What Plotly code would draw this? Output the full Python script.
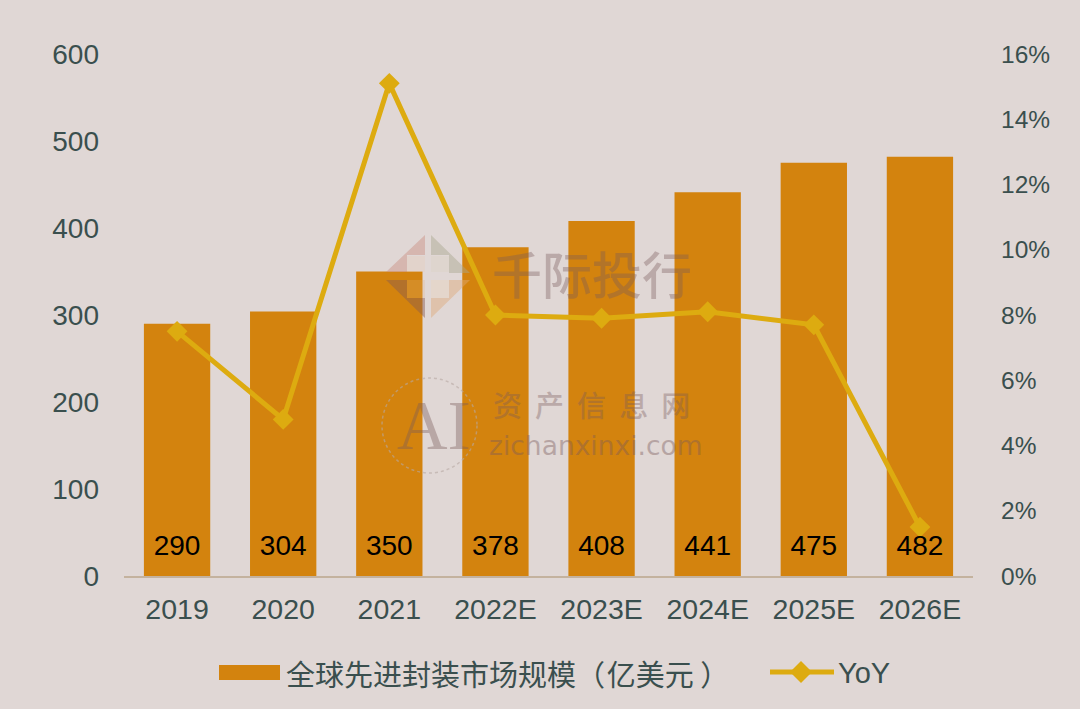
import plotly.graph_objects as go

categories = ["2019", "2020", "2021", "2022E", "2023E", "2024E", "2025E", "2026E"]
market_size = [290, 304, 350, 378, 408, 441, 475, 482]
yoy = [7.5, 4.8, 15.1, 8.0, 7.9, 8.1, 7.7, 1.5]
left_ticks = [0, 100, 200, 300, 400, 500, 600]
right_ticks = [0, 2, 4, 6, 8, 10, 12, 14, 16]
right_labels = ["0%", "2%", "4%", "6%", "8%", "10%", "12%", "14%", "16%"]
bar_name = "全球先进封装市场规模（\u200a亿美元 ）"
line_name = "YoY"

W, H = 1080, 709
L, R, T, B = 124, 973, 54, 576
BG, BAR, LINE, TXT = "#E0D7D5", "#D3830E", "#DDAB10", "#3A4F4E"
SANS = "Liberation Sans, Arial, sans-serif"
CJK = "Noto Sans CJK SC, sans-serif"
LABEL_LEVEL = 0.85  # height of the value labels, in right-axis units


def px(x):
    return (x - L) / (R - L)


def py(y):
    return (B - y) / (B - T)


def poly(points, color, opacity):
    d = "M" + "L".join(f"{px(x):.5f},{py(y):.5f}" for x, y in points) + "Z"
    return dict(type="path", xref="paper", yref="paper", path=d, fillcolor=color,
                opacity=opacity, line=dict(width=0), layer="above")


def label(text, x, y, size, color=TXT, family=CJK, anchor="left", opacity=1.0, weight=400):
    return dict(text=text, x=px(x), y=py(y), xref="paper", yref="paper", showarrow=False,
                xanchor=anchor, yanchor="middle", opacity=opacity,
                font=dict(size=size, color=color, family=family, weight=weight))


fig = go.Figure()
fig.add_trace(go.Bar(
    x=categories, y=market_size, name=bar_name, marker=dict(color=BAR, line=dict(width=0)),
    showlegend=False,
))
fig.add_trace(go.Scatter(
    x=categories, y=yoy, name=line_name, yaxis="y2", mode="lines+markers",
    line=dict(color=LINE, width=5), marker=dict(symbol="diamond", size=16, color=LINE),
    showlegend=False,
))
fig.add_trace(go.Scatter(
    x=categories, y=[LABEL_LEVEL] * len(categories), yaxis="y2", mode="text",
    text=[str(v) for v in market_size], textposition="middle center",
    textfont=dict(size=28, color="#000000", family=SANS), showlegend=False,
))

shapes = [
    # legend keys
    dict(type="rect", xref="paper", yref="paper", x0=px(219), x1=px(280), y0=py(680), y1=py(665),
         fillcolor=BAR, line=dict(width=0)),
    dict(type="line", xref="paper", yref="paper", x0=px(770), x1=px(834), y0=py(672), y1=py(672),
         line=dict(color=LINE, width=5)),
    poly([(790, 672), (801, 661), (812, 672), (801, 683)], LINE, 1),
    # logo watermark
    poly([(386, 272), (425, 235), (425, 255), (407, 255), (407, 272)], "#C98F80", 0.45),
    poly([(431, 235), (470, 273), (449, 273), (449, 255), (431, 255)], "#A9A68E", 0.45),
    poly([(386, 280), (407, 280), (407, 298), (425, 298), (425, 318)], "#8A5A50", 0.45),
    poly([(431, 318), (431, 298), (449, 298), (449, 280), (470, 280)], "#DDA878", 0.45),
    poly([(407, 256), (425, 256), (425, 272), (407, 272)], "#E8C9A8", 0.22),
    poly([(431, 256), (449, 256), (449, 272), (431, 272)], "#D8D0B8", 0.22),
    poly([(407, 280), (425, 280), (425, 298), (407, 298)], "#E0B080", 0.22),
    poly([(431, 280), (449, 280), (449, 298), (431, 298)], "#F0D8A8", 0.22),
    # round seal watermark
    dict(type="circle", xref="paper", yref="paper", x0=px(382), x1=px(477), y0=py(473), y1=py(378),
         line=dict(color="#B8A9A4", width=1.5, dash="dot"), opacity=0.6, layer="above"),
]

mark = "#7A5A5A"
gap = "\u00a0\u00a0"
annotations = [
    label(bar_name, 284, 673, 29),
    label(line_name, 836, 673, 29, family=SANS),
    label("千际投行", 490, 272, 50, color=mark, opacity=0.36, weight=500),
    label(gap.join("资产信息网"), 491, 404, 29, color=mark, opacity=0.36, weight=500),
    label("zichanxinxi.com", 487, 445, 26.5, color=mark, family="DejaVu Sans", opacity=0.4),
    label("AI", 395, 425, 70, color=mark, family="Liberation Serif", opacity=0.38),
]

fig.update_layout(
    width=W, height=H, autosize=False,
    paper_bgcolor=BG, plot_bgcolor=BG, showlegend=False, bargap=0.375,
    margin=dict(l=L, r=W - R, t=T, b=H - B, pad=0),
    font=dict(family=SANS, color=TXT),
    xaxis=dict(type="category", categoryorder="array", categoryarray=categories, range=[-0.5, 7.5],
               showgrid=False, ticks="", showline=True, linecolor="#C4B29E", linewidth=2,
               tickfont=dict(size=28.5, color=TXT, family=SANS), ticklabelstandoff=7),
    yaxis=dict(range=[0, 600], tickvals=left_ticks, showgrid=False, zeroline=False, ticks="",
               showline=False, tickfont=dict(size=28, color=TXT, family=SANS), ticklabelstandoff=24),
    yaxis2=dict(range=[0, 16], tickvals=right_ticks, ticktext=right_labels, overlaying="y", side="right",
                showgrid=False, zeroline=False, ticks="", showline=False,
                tickfont=dict(size=24.5, color=TXT, family=SANS), ticklabelstandoff=27),
    shapes=shapes, annotations=annotations,
)

fig.write_html("out.html", config=dict(displayModeBar=False),
               post_script="document.body.style.margin='0';document.body.style.background='#E0D7D5';")
